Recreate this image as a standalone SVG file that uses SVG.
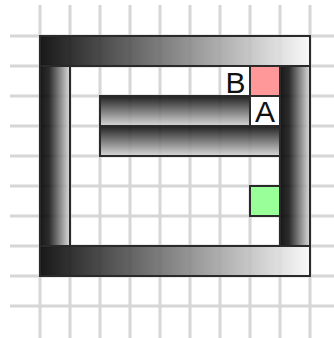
<svg xmlns="http://www.w3.org/2000/svg" width="334" height="338" viewBox="0 0 334 338">
<defs>
<linearGradient id="gh" x1="0" y1="0" x2="1" y2="0">
<stop offset="0" stop-color="#000"/>
<stop offset="1" stop-color="#f8f8f8"/>
</linearGradient>
<linearGradient id="gs" x1="0" y1="0" x2="1" y2="0">
<stop offset="0" stop-color="#000"/>
<stop offset="0.3" stop-color="#151515"/>
<stop offset="1" stop-color="#d8d8d8"/>
</linearGradient>
<linearGradient id="gv" x1="0" y1="0" x2="0" y2="1">
<stop offset="0" stop-color="#0a0a0a"/>
<stop offset="1" stop-color="#d4d4d4"/>
</linearGradient>
<style>
.grid line{stroke:#d6d6d6;stroke-width:3}
.bar{stroke:#2a2a2a;stroke-width:2;fill-opacity:0.9}
.sq{stroke:#2a2a2a;stroke-width:2}
.lbl{font-family:"Liberation Sans",Arial,sans-serif;font-size:30px;fill:#111;text-anchor:middle}
</style>
</defs>
<rect width="334" height="338" fill="#fff"/>
<g class="grid" id="grid">
<line x1="40" y1="5" x2="40" y2="338"/>
<line x1="70" y1="5" x2="70" y2="338"/>
<line x1="100" y1="5" x2="100" y2="338"/>
<line x1="130" y1="5" x2="130" y2="338"/>
<line x1="160" y1="5" x2="160" y2="338"/>
<line x1="190" y1="5" x2="190" y2="338"/>
<line x1="220" y1="5" x2="220" y2="338"/>
<line x1="250" y1="5" x2="250" y2="338"/>
<line x1="280" y1="5" x2="280" y2="338"/>
<line x1="310" y1="5" x2="310" y2="338"/>
<line x1="10" y1="36" x2="334" y2="36"/>
<line x1="10" y1="66" x2="334" y2="66"/>
<line x1="10" y1="96" x2="334" y2="96"/>
<line x1="10" y1="126" x2="334" y2="126"/>
<line x1="10" y1="156" x2="334" y2="156"/>
<line x1="10" y1="186" x2="334" y2="186"/>
<line x1="10" y1="216" x2="334" y2="216"/>
<line x1="10" y1="246" x2="334" y2="246"/>
<line x1="10" y1="276" x2="334" y2="276"/>
<line x1="10" y1="306" x2="334" y2="306"/>
</g>
<g id="walls">
<rect id="wall-top" class="bar" x="40" y="36" width="270" height="30" fill="url(#gh)"/>
<rect id="wall-left" class="bar" x="40" y="66" width="30" height="180" fill="url(#gs)"/>
<rect id="wall-right" class="bar" x="280" y="66" width="30" height="180" fill="url(#gs)"/>
<rect id="wall-bottom" class="bar" x="40" y="246" width="270" height="30" fill="url(#gh)"/>
<rect id="wall-mid1" class="bar" x="100" y="96" width="150" height="30" fill="url(#gv)"/>
<rect id="wall-mid2" class="bar" x="100" y="126" width="180" height="30" fill="url(#gv)"/>
</g>
<g id="cellB">
<rect x="221.5" y="67" width="28" height="28" fill="#fff"/>
<text class="lbl" x="235.5" y="92.5">B</text>
</g>
<g id="pink">
<rect class="sq" x="250" y="66" width="30" height="30" fill="#ff9999"/>
</g>
<g id="cellA">
<rect x="251" y="97" width="28" height="28" fill="#fff"/>
<text class="lbl" x="265" y="122">A</text>
</g>
<g id="green">
<rect class="sq" x="250" y="186" width="30" height="30" fill="#99ff99"/>
</g>
</svg>
